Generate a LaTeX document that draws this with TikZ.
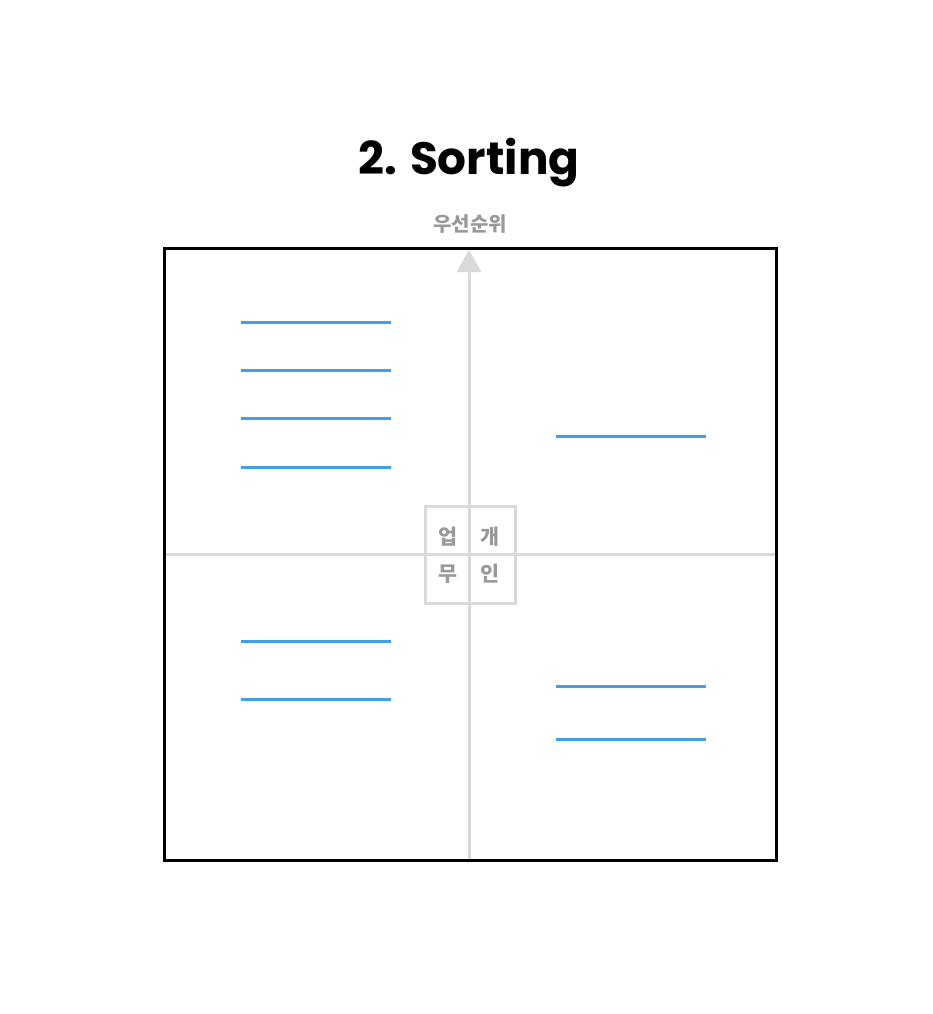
\documentclass[tikz,border=0pt]{standalone}
\usepackage{fontspec}
\setmainfont{Poppins}
\newfontfamily\krfont{Noto Sans CJK KR}
\usetikzlibrary{arrows.meta}
\definecolor{axisgray}{HTML}{D9D9D9}
\definecolor{labelgray}{HTML}{999999}
\definecolor{taskblue}{HTML}{42A0E8}

\begin{document}
\begin{tikzpicture}[x=0.75pt,y=-0.75pt,
   frame/.style={draw=black,line width=2.25pt},
   axis/.style={draw=axisgray,line width=2.25pt},
   task/.style={draw=taskblue,line width=2.25pt},
   quad/.style={text=labelgray,inner sep=0pt,
     font=\krfont\bfseries\fontsize{15.5}{15.5}\selectfont}]
\useasboundingbox[fill=white] (0,0) rectangle (932,1014);

% title and axis label
\node (title) at (469,163) {\bfseries\fontsize{34}{38}\selectfont 2. Sorting};
\node[text=labelgray,font=\krfont\bfseries\fontsize{15}{15}\selectfont] (prio) at (470,224) {우선순위};

% axes
\coordinate (xl) at (164,554);
\coordinate (xr) at (776,554);
\coordinate (yb) at (469,860);
\coordinate (yt) at (469,250);
\draw[axis] (xl) -- (xr);
\draw[axis,-{Triangle[width=18pt,length=16.5pt]}] (yb) -- (yt);

% quadrant tag
\draw[axis] (425,506) rectangle (515,603);
\node[quad] (work) at (448,537) {업};
\node[quad] (own) at (490,537) {개};
\node[quad] (task) at (448,574) {무};
\node[quad] (self) at (490,574) {인};

% frame
\draw[frame] (164,248) rectangle (776,860);

% tasks
\draw[task] (241,322) -- (391,322);
\draw[task] (241,370) -- (391,370);
\draw[task] (241,418) -- (391,418);
\draw[task] (241,467) -- (391,467);
\draw[task] (241,641) -- (391,641);
\draw[task] (241,699) -- (391,699);
\draw[task] (556,436) -- (706,436);
\draw[task] (556,686) -- (706,686);
\draw[task] (556,739) -- (706,739);
\end{tikzpicture}
\end{document}
